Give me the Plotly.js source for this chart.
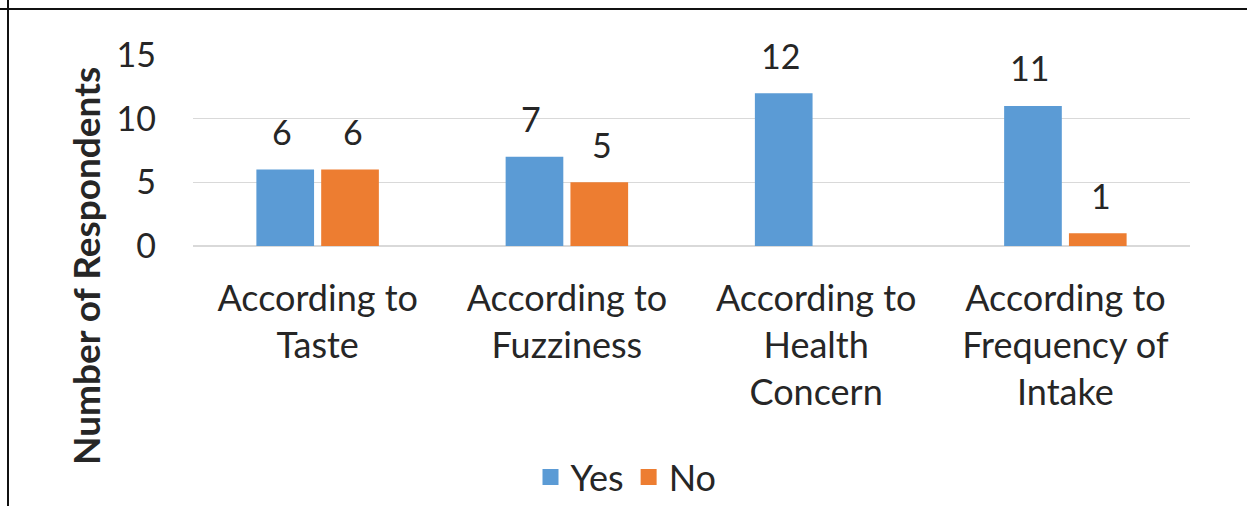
<!DOCTYPE html>
<html>
<head>
<meta charset="utf-8">
<script src="https://cdn.plot.ly/plotly-3.0.1.min.js"></script>
<style>
  html, body { margin: 0; padding: 0; background: #fff; }
  #chart { width: 1247px; height: 506px; }
  .frame-top { position: absolute; left: 0; top: 8px; width: 1247px; height: 2px; background: #111; }
  .frame-left { position: absolute; left: 7px; top: 0; width: 2px; height: 506px; background: #111; }
</style>
</head>
<body>
<div id="chart"></div>
<div class="frame-top"></div>
<div class="frame-left"></div>
<script>
// Survey responses per criterion
const categories = ["Taste", "Fuzziness", "Health", "Frequency"];
const tickLabels = [
  "According to<br>Taste",
  "According to<br>Fuzziness",
  "According to<br>Health<br>Concern",
  "According to<br>Frequency of<br>Intake"
];
const seriesNames = ["Yes", "No"];
const seriesColors = ["#5B9BD5", "#ED7D31"];
const yesValues = [6, 7, 12, 11];
const noValues = [6, 5, 0, 1];

const FONT = "Lato, 'Open Sans', sans-serif";
const TEXT = "#262626";

const seriesValues = [yesValues, noValues];

const traces = seriesValues.map((vals, s) => ({
  type: "bar", name: seriesNames[s], x: categories, y: vals,
  marker: { color: seriesColors[s] }, hoverinfo: "y", showlegend: false
}));

// legend keys drawn as larger square swatches
seriesNames.forEach((name, s) => {
  traces.push({
    type: "scatter", mode: "markers", name: name, x: [null], y: [null],
    marker: { symbol: "square", size: 18, color: seriesColors[s] },
    hoverinfo: "skip"
  });
});

// value labels above each non-zero bar
const annotations = [];
const seriesShift = [-35.5, 35.5];
seriesValues.forEach((vals, s) => {
  vals.forEach((v, i) => {
    if (v === 0) return;
    annotations.push({
      x: categories[i], y: v, xref: "x", yref: "y",
      text: String(v), showarrow: false,
      xshift: seriesShift[s], yshift: 38, yanchor: "middle",
      font: { family: FONT, size: 34, color: TEXT }
    });
  });
});

// vertical axis title, centred on the full figure height
annotations.push({
  xref: "paper", yref: "paper",
  x: (85 - 193) / 997, y: (246 - 266) / 191, xanchor: "center", yanchor: "middle",
  text: "<b>Number of Respondents</b>", textangle: -90, showarrow: false,
  font: { family: FONT, size: 37, color: TEXT }
});

const layout = {
  width: 1247, height: 506,
  margin: { l: 193, r: 57, t: 55, b: 260, autoexpand: false },
  paper_bgcolor: "#fff", plot_bgcolor: "#fff",
  barmode: "group", bargap: 0.48, bargroupgap: 0.11,
  font: { family: FONT, color: TEXT },
  xaxis: {
    type: "category", tickvals: categories, ticktext: tickLabels,
    tickfont: { family: FONT, size: 36, color: TEXT }, automargin: false,
    showline: false, ticks: "", ticklabelstandoff: 28, fixedrange: true
  },
  yaxis: {
    range: [0, 15], dtick: 5, tick0: 0, automargin: false,
    gridcolor: "#D9D9D9", gridwidth: 1.5,
    zeroline: true, zerolinecolor: "#D9D9D9", zerolinewidth: 1.5,
    showline: false, ticks: "", ticklabelstandoff: 36,
    tickfont: { family: FONT, size: 34, color: TEXT }, fixedrange: true
  },
  showlegend: true,
  legend: {
    orientation: "h", x: (626 - 193) / 997, y: (246 - 477) / 191,
    xanchor: "center", yanchor: "middle",
    font: { family: FONT, size: 36, color: TEXT },
    itemwidth: 30, traceorder: "normal", tracegroupgap: 0
  },
  annotations: annotations
};

Plotly.newPlot("chart", traces, layout, { displayModeBar: false, staticPlot: true });
</script>
</body>
</html>
